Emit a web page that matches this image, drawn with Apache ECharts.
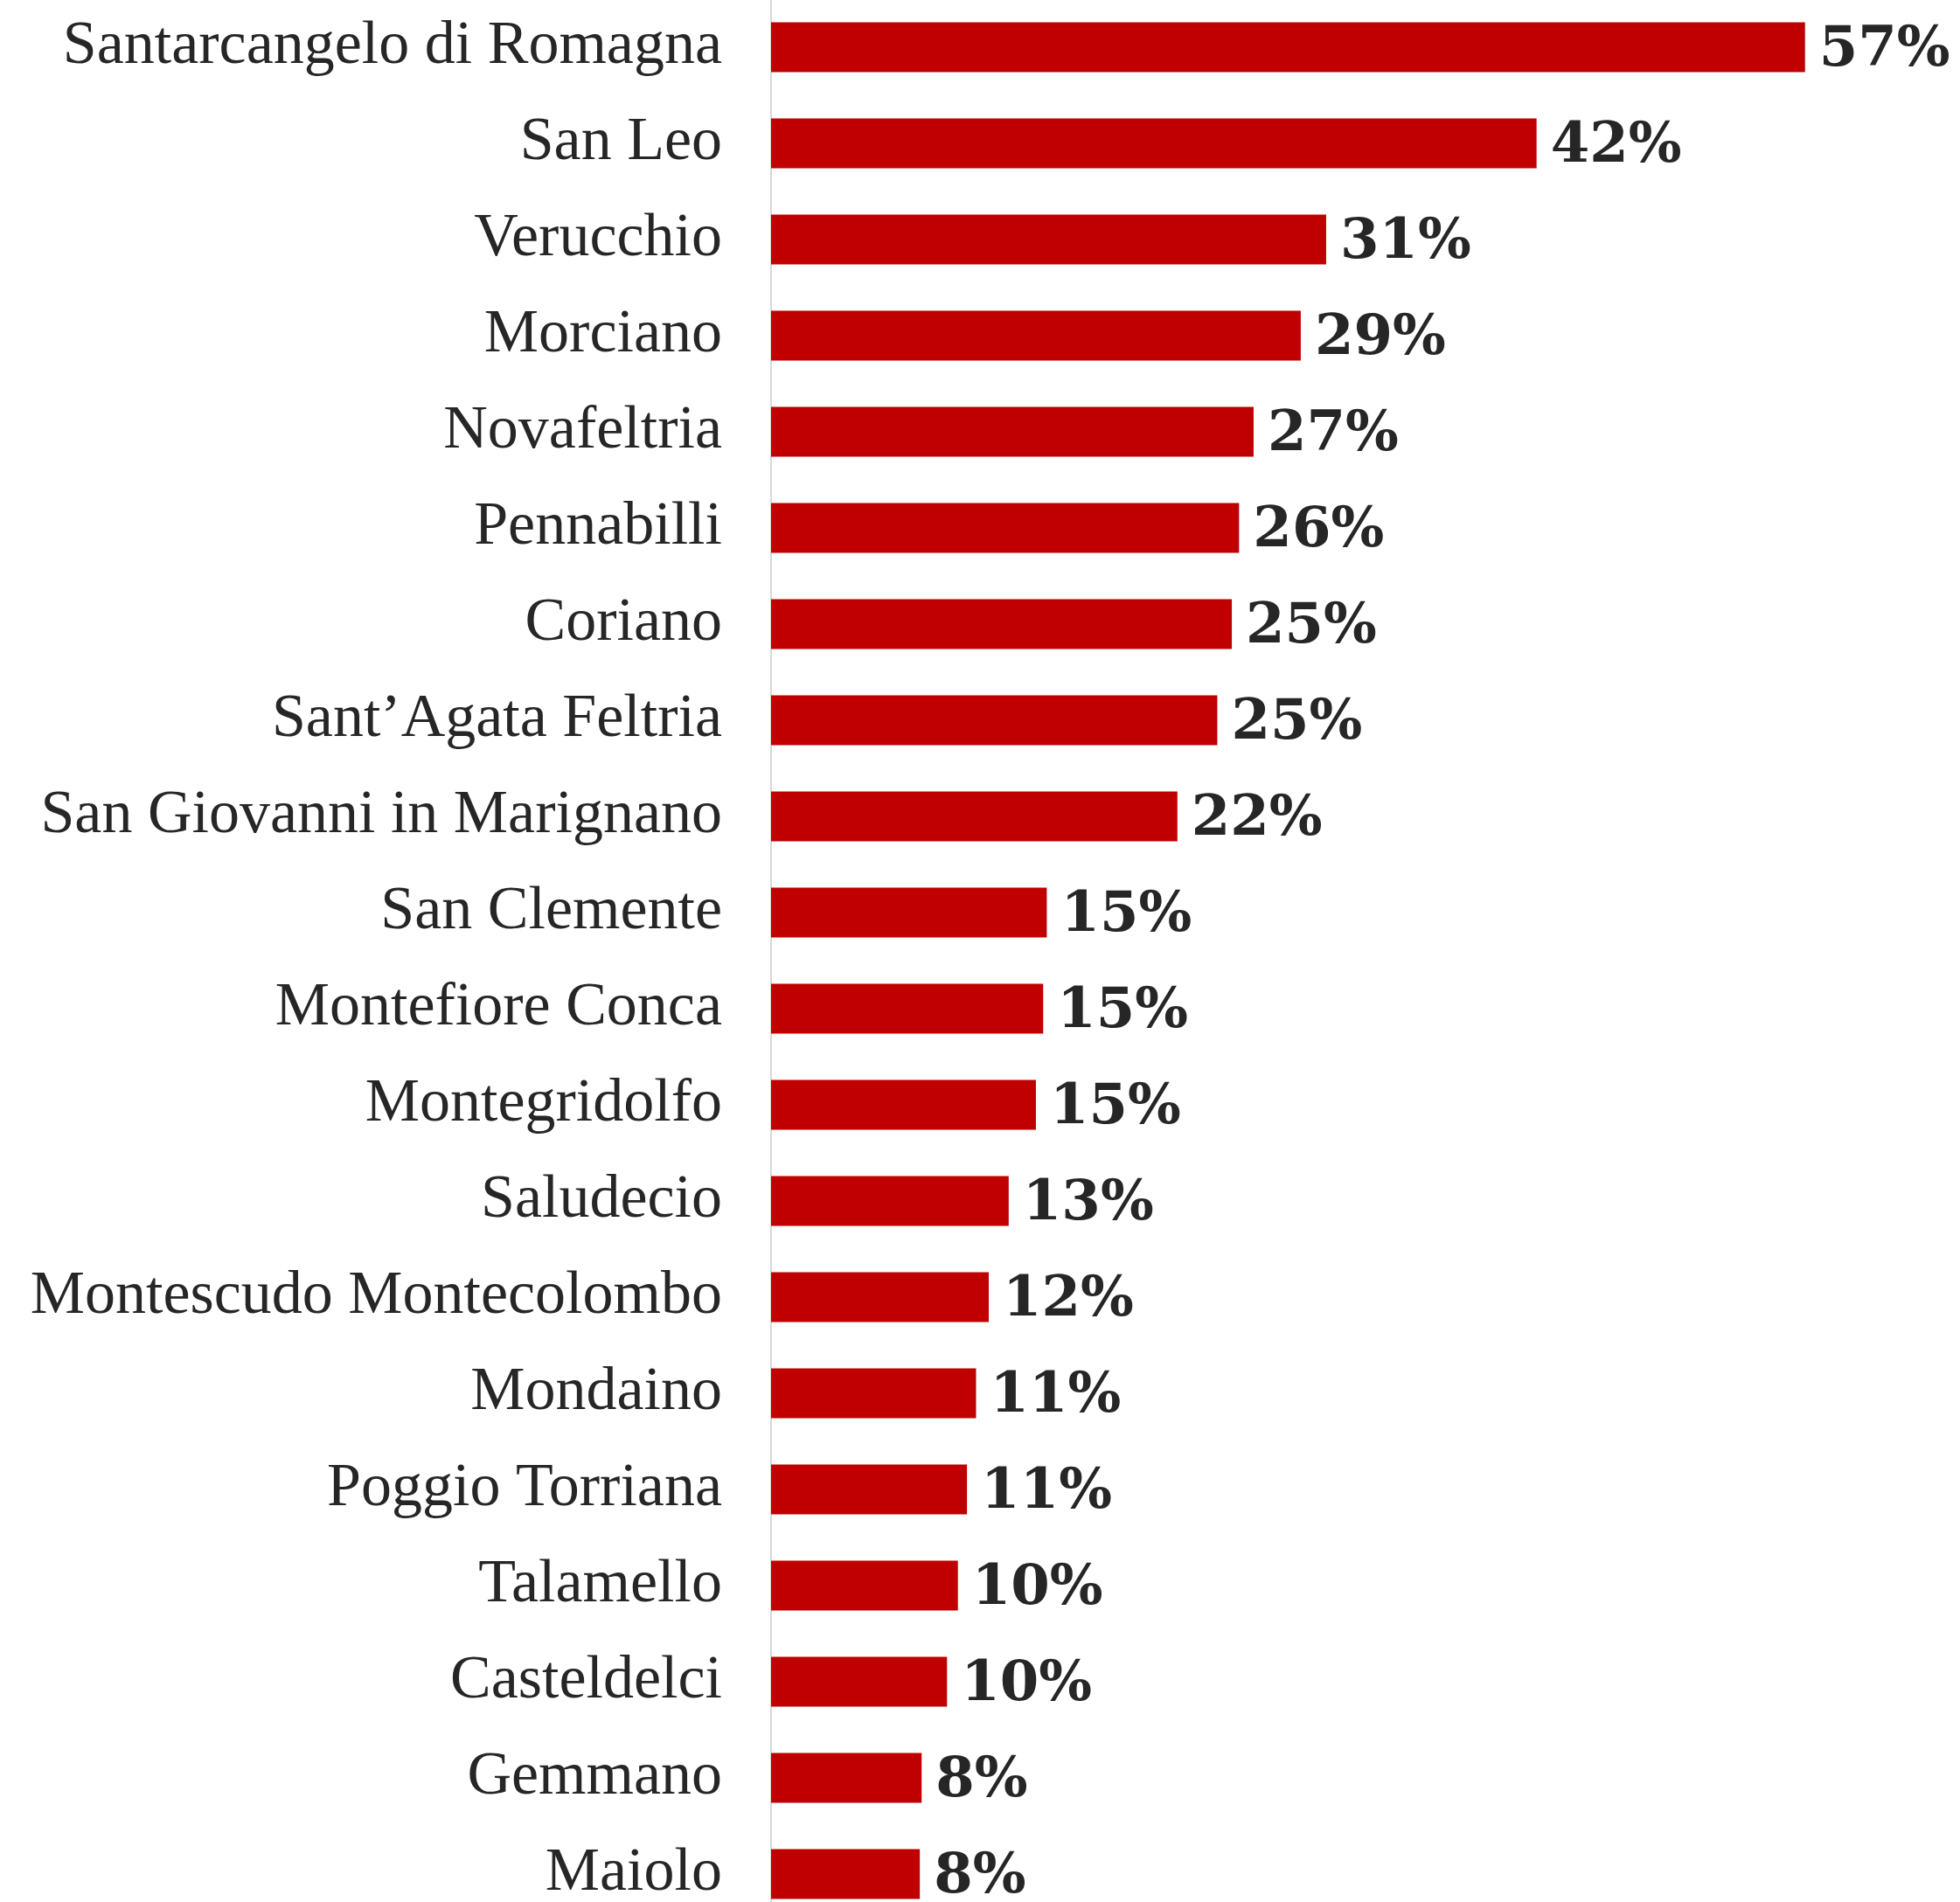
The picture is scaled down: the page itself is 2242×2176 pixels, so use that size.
<!DOCTYPE html>
<html>
<head>
<meta charset="utf-8">
<script src="https://cdn.jsdelivr.net/npm/echarts@6/dist/echarts.min.js"></script>
<style>
  html, body { margin: 0; padding: 0; background: #ffffff; }
  #chart { width: 2242px; height: 2176px; }
</style>
</head>
<body>
<div id="chart"></div>
<script>
// Municipalities, ordered from highest to lowest share
const comuni = [
  'Santarcangelo di Romagna', 'San Leo', 'Verucchio', 'Morciano', 'Novafeltria',
  'Pennabilli', 'Coriano', 'Sant\u2019Agata Feltria', 'San Giovanni in Marignano',
  'San Clemente', 'Montefiore Conca', 'Montegridolfo', 'Saludecio',
  'Montescudo Montecolombo', 'Mondaino', 'Poggio Torriana', 'Talamello',
  'Casteldelci', 'Gemmano', 'Maiolo'
];

// Share per municipality, in percent
const quote = [
  57.0, 42.2, 30.6, 29.2, 26.6,
  25.8, 25.4, 24.6, 22.4,
  15.2, 15.0, 14.6, 13.1,
  12.0, 11.3, 10.8, 10.3,
  9.7, 8.3, 8.2
];

const chart = echarts.init(document.getElementById('chart'), null, { renderer: 'canvas' });

chart.setOption({
  animation: false,
  backgroundColor: '#ffffff',
  grid: {
    left: 882, right: 115, top: -1, height: 2200,
    containLabel: false,
    outerBoundsMode: 'none'
  },
  xAxis: {
    type: 'value',
    min: 0,
    max: 60,
    show: false
  },
  yAxis: {
    type: 'category',
    data: comuni,
    inverse: true,
    axisTick: { show: false },
    axisLine: { show: true, lineStyle: { color: '#d9d9d9', width: 2 } },
    axisLabel: {
      margin: 56,
      color: '#262626',
      fontFamily: '"Liberation Serif", serif',
      fontSize: 70
    },
    splitLine: { show: false }
  },
  series: [{
    type: 'bar',
    data: quote,
    barWidth: 57,
    itemStyle: { color: '#c00000' },
    label: {
      show: true,
      position: 'right',
      distance: 16,
      offset: [0, 4],
      color: '#262626',
      fontFamily: '"DejaVu Serif", serif',
      fontWeight: 'bold',
      fontSize: 64,
      formatter: p => Math.round(p.value) + '%'
    }
  }]
});
</script>
</body>
</html>
